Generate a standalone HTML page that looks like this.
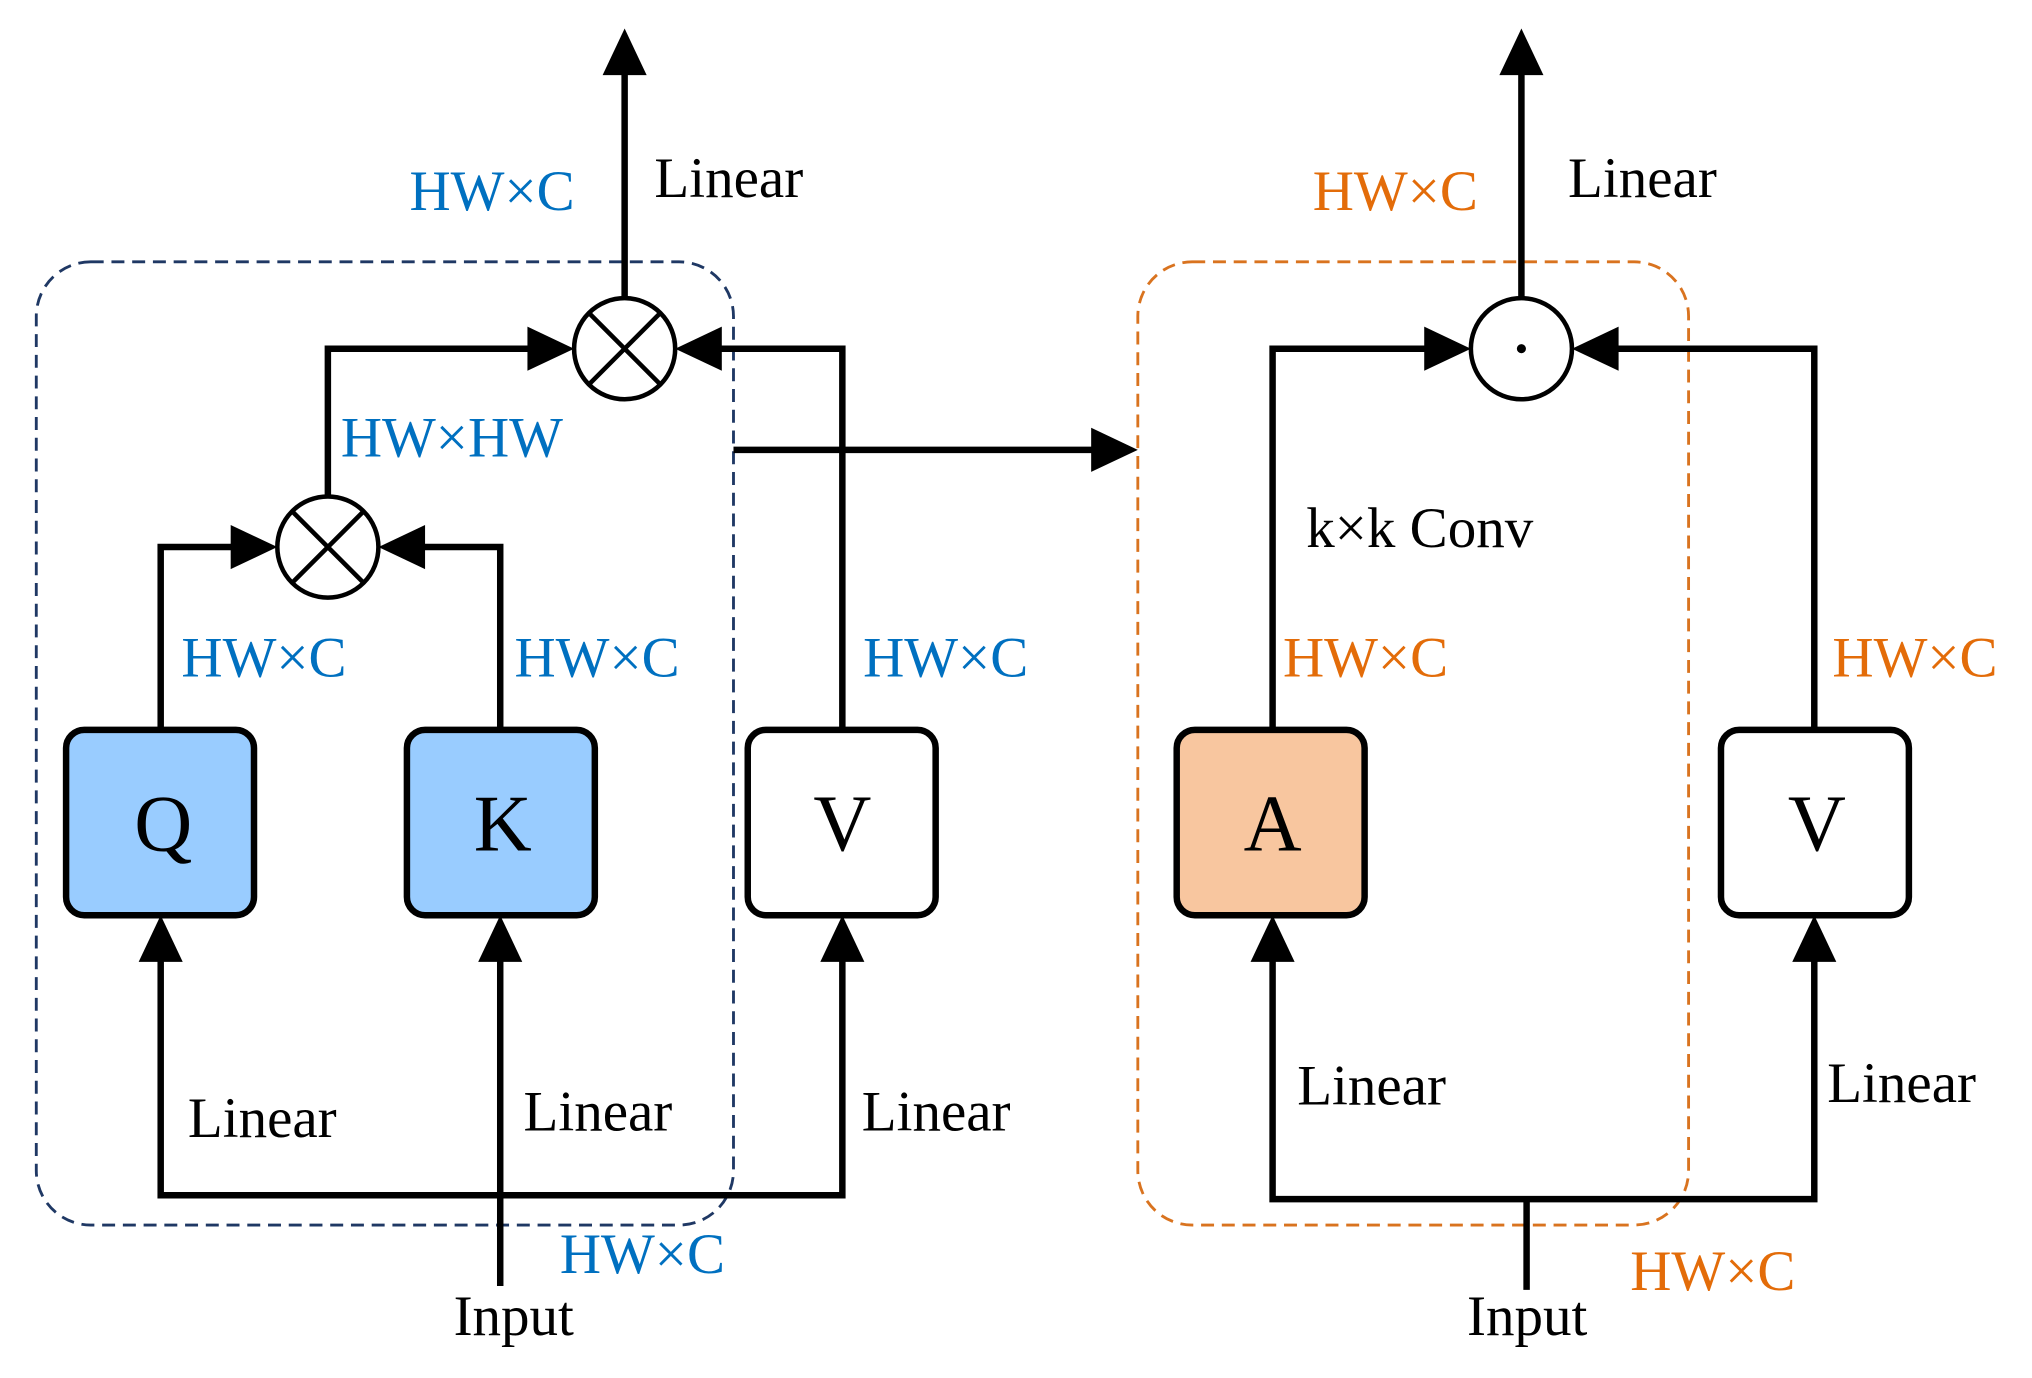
<html><body style="margin:0;background:#fff">
<svg width="2032" height="1378" viewBox="0 0 1568 1063" preserveAspectRatio="none" xmlns="http://www.w3.org/2000/svg" style="display:block">
<g fill="none" stroke-dasharray="10,6" stroke-width="2.2">
<rect x="28" y="202" width="538" height="743" rx="42" stroke="#1f3864"/>
<rect x="878" y="202" width="425" height="743" rx="42" stroke="#d9731f"/>
</g>
<g stroke="#000" stroke-width="5" fill="none">
<rect x="51" y="563" width="145" height="143" rx="14" fill="#99ccff"/>
<rect x="314" y="563" width="145" height="143" rx="14" fill="#99ccff"/>
<rect x="577" y="563" width="145" height="143" rx="14" fill="#fff"/>
<rect x="908" y="563" width="145" height="143" rx="14" fill="#f8c69f"/>
<rect x="1328" y="563" width="145" height="143" rx="14" fill="#fff"/>
<polyline points="124,738 124,922 650,922 650,738"/>
<line x1="386" y1="992" x2="386" y2="738"/>
<polyline points="124,563 124,422 185,422"/>
<polyline points="386,563 386,422 322,422"/>
<polyline points="253,382 253,269 412,269"/>
<polyline points="650,563 650,269 552,269"/>
<line x1="482" y1="229" x2="482" y2="52"/>
<line x1="566" y1="347" x2="848" y2="347"/>
<polyline points="982,738 982,925 1400,925 1400,738"/>
<line x1="1178" y1="925" x2="1178" y2="995"/>
<polyline points="982,563 982,269 1104,269"/>
<polyline points="1400,563 1400,269 1244,269"/>
<line x1="1174" y1="229" x2="1174" y2="52"/>
</g>
<g stroke="#000" stroke-width="3.5" fill="#fff">
<circle cx="253" cy="422" r="39"/>
<circle cx="482" cy="269" r="39"/>
<circle cx="1174" cy="269" r="39"/>
<path d="M225,394 L281,450 M281,394 L225,450 M454,241 L510,297 M510,241 L454,297" fill="none"/>
</g>
<circle cx="1174" cy="269" r="3.5" fill="#000"/>
<g fill="#000">
<polygon points="124,706 107,742 141,742"/>
<polygon points="386,706 369,742 403,742"/>
<polygon points="650,706 633,742 667,742"/>
<polygon points="982,706 965,742 999,742"/>
<polygon points="1400,706 1383,742 1417,742"/>
<polygon points="214,422 178,405 178,439"/>
<polygon points="292,422 328,405 328,439"/>
<polygon points="443,269 407,252 407,286"/>
<polygon points="521,269 557,252 557,286"/>
<polygon points="1135,269 1099,252 1099,286"/>
<polygon points="1213,269 1249,252 1249,286"/>
<polygon points="482,22 465,58 499,58"/>
<polygon points="1174,22 1157,58 1191,58"/>
<polygon points="878,347 842,330 842,364"/>
</g>
<g font-family="Liberation Serif, serif" font-size="44">
<g fill="#0070c0">
<text x="316" y="162">HW×C</text>
<text x="263" y="352">HW×HW</text>
<text x="140" y="522">HW×C</text>
<text x="397" y="522">HW×C</text>
<text x="666" y="522">HW×C</text>
<text x="432" y="982">HW×C</text>
</g>
<g fill="#e36c09">
<text x="1013" y="162">HW×C</text>
<text x="990" y="522">HW×C</text>
<text x="1414" y="522">HW×C</text>
<text x="1258" y="995">HW×C</text>
</g>
<g fill="#000">
<text x="505" y="152">Linear</text>
<text x="145" y="877">Linear</text>
<text x="404" y="872">Linear</text>
<text x="665" y="872">Linear</text>
<text x="350" y="1030">Input</text>
<text x="1210" y="152">Linear</text>
<text x="1008" y="422">k×k Conv</text>
<text x="1001" y="852">Linear</text>
<text x="1410" y="850">Linear</text>
<text x="1132" y="1030">Input</text>
</g>
<g fill="#000" font-size="62" text-anchor="middle">
<text x="126" y="656">Q</text>
<text x="388" y="656">K</text>
<text x="650" y="656">V</text>
<text x="982" y="656">A</text>
<text x="1402" y="656">V</text>
</g>
</g>
</svg>
</body></html>
